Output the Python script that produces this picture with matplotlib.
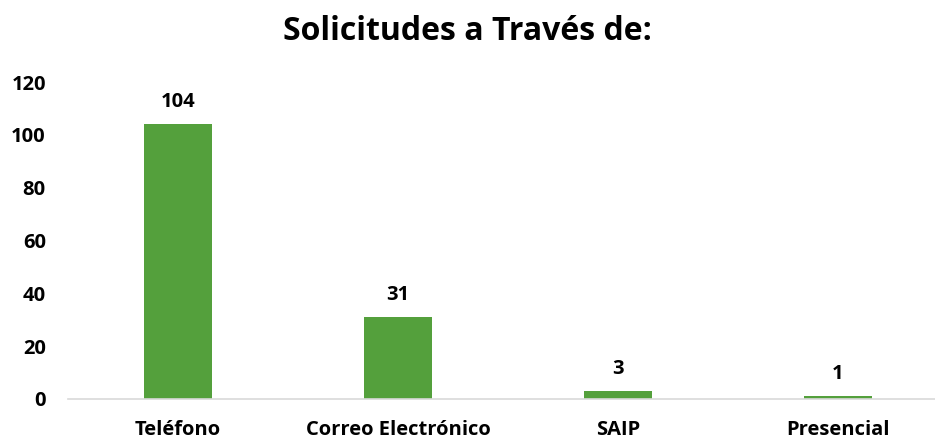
import matplotlib
matplotlib.use("Agg")
import matplotlib.pyplot as plt

categories = ["Teléfono", "Correo Electrónico", "SAIP", "Presencial"]
values = [104, 31, 3, 1]
yticks = [0, 20, 40, 60, 80, 100, 120]

plt.rcParams['font.family'] = ['Open Sans', 'DejaVu Sans']
plt.rcParams['font.weight'] = 'bold'

fig = plt.figure(figsize=(9.35, 4.41), dpi=100)
ax = fig.add_axes([68/935, (441-399)/441, 880/935, (399-82)/441])
x = list(range(len(categories)))
bars = ax.bar(x, values, width=0.31, color="#54A03C", zorder=2)
ax.set_xlim(-0.5, len(categories) - 0.5)
ax.set_ylim(0, 120)
ax.set_yticks(yticks)
ax.set_yticklabels([str(t) for t in yticks], fontsize=14.5, fontweight='bold')
ax.set_xticks(x)
ax.set_xticklabels(categories, fontsize=14.5, fontweight='bold')
for s in ['top', 'right', 'left']:
    ax.spines[s].set_visible(False)
ax.spines['bottom'].set_color('#D9D9D9')
ax.spines['bottom'].set_linewidth(1.2)
ax.tick_params(axis='both', length=0)
ax.tick_params(axis='y', pad=16)
ax.tick_params(axis='x', pad=15)
for xi, v in zip(x, values):
    ax.annotate(str(v), (xi, v), xytext=(0, 9), textcoords='offset points',
                ha='center', va='bottom', fontsize=14.5, fontweight='bold')
fig.text(0.5, 1 - 32/441, "Solicitudes a Través de:", ha='center', va='center',
         fontsize=23, fontweight='bold')
fig.savefig("out.png", dpi=100)
